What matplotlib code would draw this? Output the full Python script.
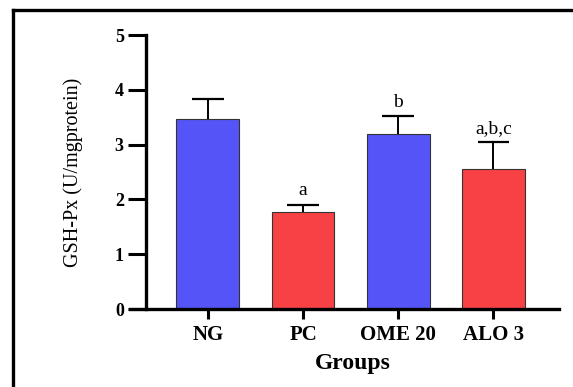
import matplotlib
matplotlib.use('Agg')
import matplotlib.pyplot as plt
from matplotlib.lines import Line2D

# data
groups = ['NG', 'PC', 'OME 20', 'ALO 3']
means = [3.46, 1.77, 3.19, 2.55]
errs = [0.37, 0.13, 0.33, 0.49]
letters = ['', 'a', 'b', 'a,b,c']
colors = ['#5555F7', '#F74144', '#5555F7', '#F74144']

plt.rcParams['font.family'] = ['Liberation Serif', 'DejaVu Serif']

fig = plt.figure(figsize=(5.73, 3.87), dpi=100)
ax = fig.add_axes([146/573, 1-309/387, (559-146)/573, (309-35)/387])

x = list(range(len(groups)))
tops = [m + e for m, e in zip(means, errs)]
ax.bar(x, means, width=0.66, color=colors, edgecolor='#333333', linewidth=0.8, zorder=2)
# upper-only error bars (GraphPad style)
ax.vlines(x, means, tops, color='black', linewidth=1.4, zorder=3)
ax.hlines(tops, [i - 0.165 for i in x], [i + 0.165 for i in x], color='black',
          linewidth=1.6, zorder=3)

for i in x:
    if letters[i]:
        ax.text(i, tops[i] + 0.1, letters[i], ha='center', va='bottom', fontsize=14)

ax.set_xlim(-0.65, 3.69)
ax.set_ylim(0, 5)
ax.set_yticks([0, 1, 2, 3, 4, 5])
ax.set_xticks(x)
ax.set_xticklabels(groups, fontsize=15, fontweight='bold')
for lbl in ax.get_yticklabels():
    lbl.set_fontsize(13)
    lbl.set_fontweight('bold')

for s in ['top', 'right']:
    ax.spines[s].set_visible(False)
ax.spines['left'].set_linewidth(2.4)
ax.spines['bottom'].set_linewidth(2.4)
ax.spines['bottom'].set_bounds(-0.82, 3.69)
ax.tick_params(axis='y', length=13, width=2.2, pad=3)
ax.tick_params(axis='x', length=7.5, width=2.2, pad=4)

ax.set_ylabel('GSH-Px (U/mgprotein)', fontsize=14.5, labelpad=23)
ax.set_xlabel('Groups', fontsize=17, fontweight='bold', labelpad=6)

# outer frame, runs off the right and bottom edge
fig.add_artist(Line2D([13/573, 13/573], [0, 1-10/387], transform=fig.transFigure,
                      color='black', linewidth=2.4))
fig.add_artist(Line2D([13/573, 1], [1-10/387, 1-10/387], transform=fig.transFigure,
                      color='black', linewidth=2.4))

fig.savefig('out.png', dpi=100)
